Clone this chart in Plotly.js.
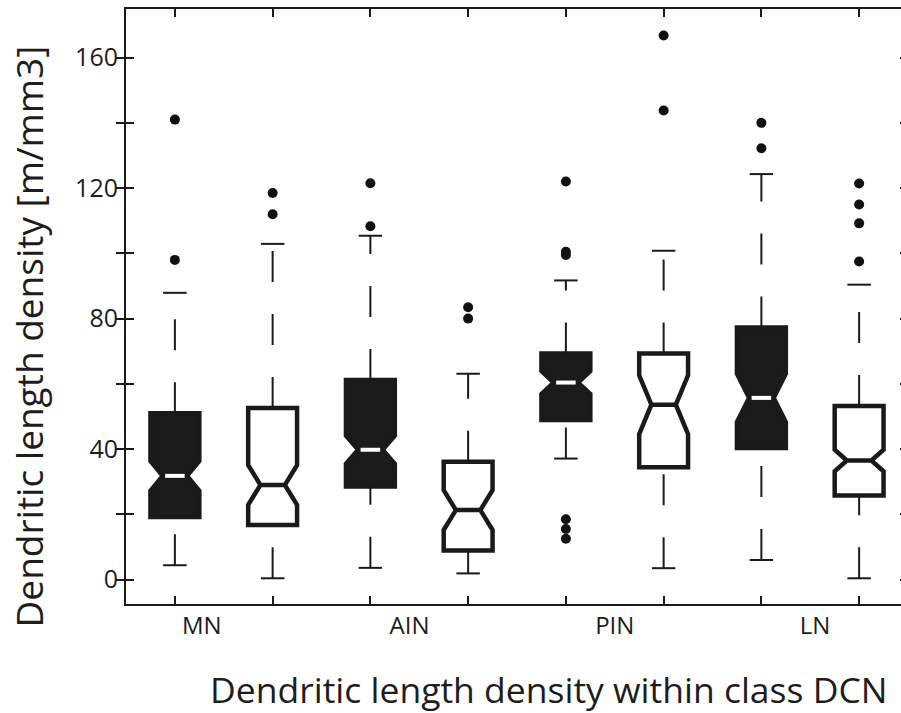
<!DOCTYPE html>
<html><head><meta charset="utf-8">
<script src="https://cdn.plot.ly/plotly-3.0.1.min.js"></script>
<style>html,body{margin:0;padding:0;overflow:hidden;background:#fff}#chart{width:908px;height:713px}</style>
</head><body><div id="chart"></div>
<script>
// ---- data ----
const groups = ['MN', 'AIN', 'PIN', 'LN'];
const groupLabelPos = [1.276, 3.40, 5.50, 7.55];
const boxPos = [1, 2, 3, 4, 5, 6, 7, 8];
const boxFilled = [true, false, true, false, true, false, true, false];
const lowerWhisker = [4.4, 0.4, 3.6, 1.9, 37.1, 3.5, 6.0, 0.4];
const q1Vals = [19.2, 16.7, 28.5, 8.9, 48.9, 34.4, 40.3, 25.8];
const medianVals = [31.8, 29.0, 39.8, 21.3, 60.4, 53.6, 55.7, 36.5];
const q3Vals = [51.0, 52.6, 61.2, 36.1, 69.3, 69.3, 77.3, 53.2];
const upperWhisker = [87.9, 102.9, 105.4, 63.1, 91.7, 100.8, 124.3, 90.4];
const notchSpan = [4.6, 6.1, 4.3, 6.1, 3.5, 9.0, 7.4, 3.3];
const outliers = [
  [141, 98],
  [118.5, 112],
  [121.5, 108.3],
  [83.5, 80],
  [122, 100.5, 99.5, 18.5, 15.5, 12.5],
  [166.8, 143.8],
  [140, 132.2],
  [121.4, 115, 109.2, 97.5]
];
const yTickVals = [0, 20, 40, 60, 80, 100, 120, 140, 160];
const yTickText = ['0', '', '40', '', '80', '', '120', '', '160'];
const xTitle = 'Dendritic length density within class DCN';
const yTitle = 'Dendritic length density [m/mm3]';

// ---- styling ----
const INK = '#1a1a1a';
const TXT = '#1f1c1d';
const FONT = 'Open Sans';
const BOX_W = 0.5, CAP_HALF = 0.12, MED_HALF = 0.1;

function pick(arr, want) { return arr.filter((_, i) => boxFilled[i] === want); }

const traces = [];
[true, false].forEach(want => {
  traces.push({
    type: 'box', orientation: 'v',
    x: pick(boxPos, want),
    q1: pick(q1Vals, want), median: pick(medianVals, want), q3: pick(q3Vals, want),
    lowerfence: pick(q1Vals, want), upperfence: pick(q3Vals, want),
    notched: true, notchspan: pick(notchSpan, want), notchwidth: 0.25,
    width: BOX_W, whiskerwidth: 0, boxpoints: false,
    fillcolor: want ? '#1b1b1b' : '#ffffff',
    line: {color: INK, width: 4.5},
    hoverinfo: 'skip', showlegend: false
  });
});

// dashed whiskers (drawn bottom-to-top, like the original)
boxPos.forEach((p, i) => {
  [[q3Vals[i], upperWhisker[i]], [lowerWhisker[i], q1Vals[i]]].forEach(seg => {
    traces.push({type: 'scatter', mode: 'lines', x: [p, p], y: seg,
      line: {color: INK, width: 2, dash: '31px,32px'}, hoverinfo: 'skip', showlegend: false});
  });
});

// whisker caps
const capX = [], capY = [];
boxPos.forEach((p, i) => {
  capX.push(p - CAP_HALF, p + CAP_HALF, null, p - CAP_HALF, p + CAP_HALF, null);
  capY.push(upperWhisker[i], upperWhisker[i], null, lowerWhisker[i], lowerWhisker[i], null);
});
traces.push({type: 'scatter', mode: 'lines', x: capX, y: capY,
  line: {color: INK, width: 2}, hoverinfo: 'skip', showlegend: false});

// white medians on the filled boxes
const medX = [], medY = [];
boxPos.forEach((p, i) => {
  if (boxFilled[i]) {
    medX.push(p - MED_HALF, p + MED_HALF, null);
    medY.push(medianVals[i], medianVals[i], null);
  }
});
traces.push({type: 'scatter', mode: 'lines', x: medX, y: medY,
  line: {color: '#ffffff', width: 4}, hoverinfo: 'skip', showlegend: false});

// outliers
const oX = [], oY = [];
outliers.forEach((arr, i) => arr.forEach(v => { oX.push(boxPos[i]); oY.push(v); }));
traces.push({type: 'scatter', mode: 'markers', x: oX, y: oY, xaxis: 'x2',
  marker: {color: '#111', size: 10, symbol: 'circle'}, hoverinfo: 'skip', showlegend: false});

const layout = {
  width: 908, height: 713,
  margin: {l: 126, r: 0, t: 9, b: 109},
  paper_bgcolor: '#fff', plot_bgcolor: '#fff',
  boxmode: 'overlay', showlegend: false,
  font: {family: FONT, color: TXT},
  xaxis: {
    range: [0.5, 8.5], tickvals: boxPos, showticklabels: false,
    ticks: 'inside', ticklen: 8, tickwidth: 2, tickcolor: INK,
    showline: true, linewidth: 2, linecolor: INK, mirror: 'allticks',
    showgrid: false, zeroline: false, fixedrange: true
  },
  xaxis2: {
    overlaying: 'x', anchor: 'y', side: 'bottom',
    range: [0.5, 8.5], tickvals: groupLabelPos, ticktext: groups,
    ticks: '', showline: false, showgrid: false, zeroline: false,
    tickfont: {family: FONT, size: 24, color: TXT}, ticklabelstandoff: 5
  },
  yaxis: {
    range: [-7.48, 174.9], tickvals: yTickVals, ticktext: yTickText,
    ticks: 'inside', ticklen: 8, tickwidth: 2, tickcolor: INK,
    showline: true, linewidth: 2, linecolor: INK, mirror: 'allticks',
    showgrid: false, zeroline: false,
    tickfont: {family: FONT, size: 25, color: TXT}, ticklabelstandoff: 1
  },
  annotations: [
    {text: xTitle, xref: 'paper', yref: 'paper', x: 0.541, y: -0.1424,
     xanchor: 'center', yanchor: 'middle', showarrow: false,
     font: {family: FONT, size: 35.5, color: TXT}},
    {text: yTitle, xref: 'paper', yref: 'paper', x: -0.1245, y: 0.449, textangle: -90,
     xanchor: 'center', yanchor: 'middle', showarrow: false,
     font: {family: FONT, size: 37, color: TXT}}
  ]
};

Plotly.newPlot('chart', traces, layout, {displayModeBar: false, staticPlot: true});
</script>
</body></html>
